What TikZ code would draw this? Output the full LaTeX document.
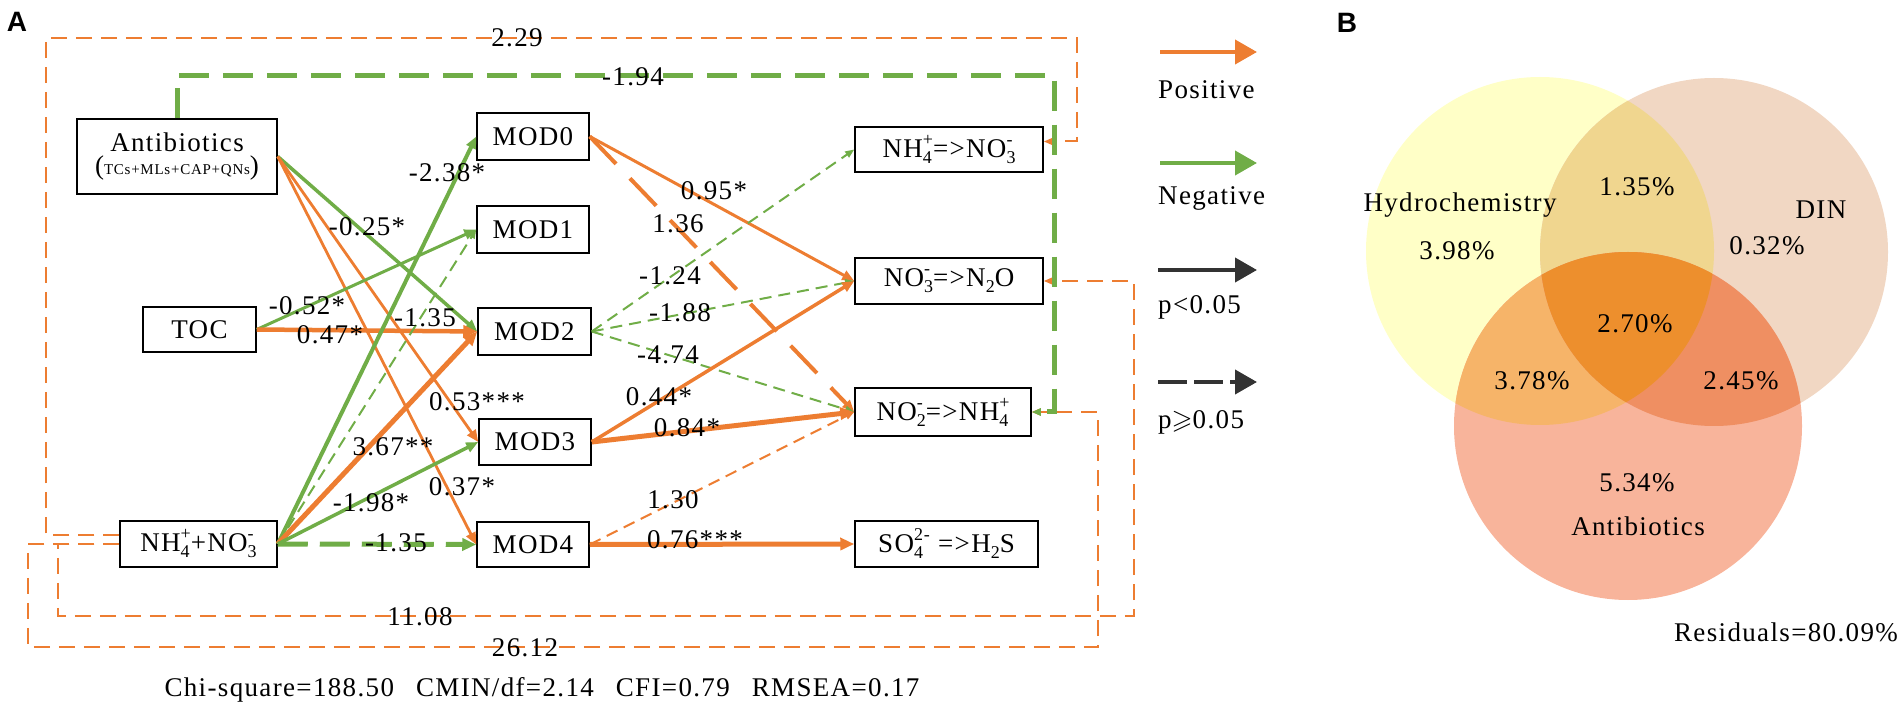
\documentclass[tikz,border=0pt]{standalone}
\usepackage{fontspec}
\usepackage{amssymb}
\setmainfont{Liberation Serif}[LetterSpace=5]
\newfontfamily\panelfont{Liberation Sans}[BoldFont={Liberation Sans Bold}]
\usetikzlibrary{arrows.meta,calc}
\definecolor{corange}{HTML}{ED7D31}
\definecolor{cgreen}{HTML}{70AD47}
\definecolor{cdark}{HTML}{333333}
\definecolor{vH}{HTML}{FFFFC7}
\definecolor{vD}{HTML}{F1D7C3}
\definecolor{vA}{HTML}{F8B49B}
\definecolor{vHD}{HTML}{F0D68F}
\definecolor{vHA}{HTML}{F6B469}
\definecolor{vDA}{HTML}{EF8F62}
\definecolor{vHDA}{HTML}{ED8F2D}
\newcommand{\chsub}[1]{\raisebox{-6pt}{\fontsize{18}{18}\selectfont #1}}
\newcommand{\chion}[2]{%
  \setbox0=\hbox{\fontsize{18}{18}\selectfont #1}%
  \setbox2=\hbox{\fontsize{18}{18}\selectfont #2}%
  \ifdim\wd0>\wd2 \dimen0=\wd0 \else \dimen0=\wd2 \fi
  \hbox to \dimen0{\rlap{\raisebox{-6pt}{\box0}}\raisebox{12pt}{\box2}\hss}}
\begin{document}
\begin{tikzpicture}[x=1pt,y=-1pt,
  every node/.style={font=\fontsize{27}{27}\selectfont, inner sep=0pt},
  box/.style={draw=black, line width=1.5pt, minimum height=46pt, minimum width=112pt},
  orl/.style={draw=corange},
  grl/.style={draw=cgreen},
  tipN/.style={-{Triangle[length=12pt,width=10pt]}},
  tipT/.style={-{Triangle[length=14pt,width=12pt]}},
  tipS/.style={-{Triangle[length=9pt,width=7pt]}},
  fdash/.style={line width=2pt, dash pattern=on 16pt off 9pt},
  tdash/.style={line width=2pt, dash pattern=on 12pt off 7pt},
  lab/.style={inner sep=0pt}]
\useasboundingbox (0,0) rectangle (1904,708);

% panel letters
\node[font=\panelfont\bfseries\fontsize{28}{28}\selectfont] (pA) at (17,22) {A};
\node[font=\panelfont\bfseries\fontsize{28}{28}\selectfont] (pB) at (1347,23) {B};

% boxes
\node[box, minimum width=200pt, minimum height=75pt, align=center] (anti) at (177,156.5)
  {Antibiotics\\[-4pt]{\fontsize{27}{27}\selectfont(}{\fontsize{15}{15}\selectfont TCs+MLs+CAP+QNs}{\fontsize{27}{27}\selectfont)}};
\node[box, minimum width=113pt, minimum height=45pt] (toc) at (199.5,329.5) {TOC};
\node[box, minimum width=157pt] (nh) at (198.5,544) {NH\chion{4}{+}+NO\chion{3}{-}};
\node[box, minimum height=47pt] (mod0) at (533,136.5) {MOD0};
\node[box, minimum height=47pt] (mod1) at (533,229.5) {MOD1};
\node[box, minimum width=113pt, minimum height=47pt] (mod2) at (534.5,331.5) {MOD2};
\node[box] (mod3) at (535,442) {MOD3};
\node[box, minimum height=45pt] (mod4) at (533,544.5) {MOD4};
\node[box, minimum width=188pt, minimum height=45pt] (p1) at (949,149.5) {NH\chion{4}{+}=>NO\chion{3}{-}};
\node[box, minimum width=188pt] (p2) at (949,281) {NO\chion{3}{-}=>N\chsub{2}O};
\node[box, minimum width=176pt, minimum height=48pt] (p3) at (943,412) {NO\chion{2}{-}=>NH\chion{4}{+}};
\node[box, minimum width=183pt] (p4) at (946.5,544) {SO\chion{4}{2-} =>H\chsub{2}S};

% drivers -> MOD
\draw[grl, line width=3.5pt, tipN] (anti.east) -- (mod2.west);
\draw[orl, line width=2.8pt, tipN] (anti.east) -- (mod3.west);
\draw[orl, line width=2.8pt, tipN] (anti.east) -- (mod4.west);
\draw[grl, line width=3pt, tipN] (toc.east) -- (mod1.west);
\draw[orl, line width=4.5pt, tipT] (toc.east) -- (mod2.west);
\draw[grl, line width=4pt, tipN] (nh.east) -- (mod0.west);
\draw[grl, tdash, tipS] (nh.east) -- (mod1.west);
\draw[orl, line width=5pt, tipT] (nh.east) -- (mod2.west);
\draw[grl, line width=3.5pt, tipN] (nh.east) -- (mod3.west);
\draw[grl, line width=5pt, dash pattern=on 30pt off 12pt, tipT] (nh.east) -- (mod4.west);

% MOD -> processes
\draw[orl, line width=3pt, tipN] (mod0.east) -- (p2.west);
\draw[orl, line width=4pt, dash pattern=on 38pt off 20pt, tipN] (mod0.east) -- (p3.west);
\draw[grl, tdash, tipS] (mod2.east) -- (p1.west);
\draw[grl, tdash, tipS] (mod2.east) -- (p2.west);
\draw[grl, tdash, tipS] (mod2.east) -- (p3.west);
\draw[orl, line width=3.5pt, tipN] (mod3.east) -- (p2.west);
\draw[orl, line width=5pt, tipT] (mod3.east) -- (p3.west);
\draw[orl, tdash, tipS] (mod4.east) -- (p3.west);
\draw[orl, line width=5pt, tipT] (mod4.east) -- (p4.west);

% long feedback paths
\draw[orl, fdash, tipS] ([yshift=9pt]nh.west) -| (46,38) -| ([xshift=33pt,yshift=8pt]p1.east) -- ([yshift=8pt]p1.east);
\draw[orl, fdash, tipS] (nh.west) -| (58,616) -| ([xshift=90pt]p2.east) -- (p2.east);
\draw[orl, fdash, tipS] (nh.west) -| (28,647) -| ([xshift=66pt]p3.east) -- (p3.east);
\draw[grl, line width=5pt, dash pattern=on 30pt off 14pt, tipS] (anti.north) |- (1054,76) |- (p3.east);

% coefficient labels
\node[lab] (c1) at (517,38) {2.29};
\node[lab] (c2) at (633,77) {-1.94};
\node[lab] (c3) at (447,173) {-2.38*};
\node[lab] (c4) at (367,227) {-0.25*};
\node[lab] (c5) at (307,306) {-0.52*};
\node[lab] (c6) at (330,335) {0.47*};
\node[lab] (c7) at (425,318) {-1.35};
\node[lab] (c8) at (477,402) {0.53***};
\node[lab] (c9) at (393,447) {3.67**};
\node[lab] (c10) at (462,487) {0.37*};
\node[lab] (c11) at (371,503) {-1.98*};
\node[lab] (c12) at (396,543) {-1.35};
\node[lab] (c13) at (714,191) {0.95*};
\node[lab] (c14) at (678,224) {1.36};
\node[lab] (c15) at (670,276) {-1.24};
\node[lab] (c16) at (680,313) {-1.88};
\node[lab] (c17) at (668,355) {-4.74};
\node[lab] (c18) at (659,397) {0.44*};
\node[lab] (c19) at (687,428) {0.84*};
\node[lab] (c20) at (673,500) {1.30};
\node[lab] (c21) at (695,540) {0.76***};
\node[lab] (c22) at (420,617) {11.08};
\node[lab] (c23) at (525,648) {26.12};
\node[lab] (fit) at (542,690) {Chi-square=188.50\hspace{22pt}CMIN/df=2.14\hspace{22pt}CFI=0.79\hspace{22pt}RMSEA=0.17};

% legend
\coordinate (g1a) at (1160,52);  \coordinate (g1b) at (1257,52);
\coordinate (g2a) at (1160,163); \coordinate (g2b) at (1257,163);
\coordinate (g3a) at (1158,270); \coordinate (g3b) at (1257,270);
\coordinate (g4a) at (1158,382); \coordinate (g4b) at (1257,382);
\draw[corange, line width=4pt, -{Triangle[length=22pt,width=24pt]}] (g1a) -- (g1b);
\draw[cgreen, line width=4pt, -{Triangle[length=22pt,width=24pt]}] (g2a) -- (g2b);
\draw[cdark, line width=4pt, -{Triangle[length=22pt,width=24pt]}] (g3a) -- (g3b);
\draw[cdark, line width=4pt, dash pattern=on 29pt off 7pt, -{Triangle[length=22pt,width=24pt]}] (g4a) -- (g4b);
\node[lab, anchor=west] (t1) at (1158,90) {Positive};
\node[lab, anchor=west] (t2) at (1158,198) {Negative};
\node[lab, anchor=west] (t3) at (1158,307) {p<0.05};
\node[lab, anchor=west] (t4) at (1158,422) {p$\geqslant$0.05};

% Venn diagram
\def\vr{174}
\fill[vH] (1540,251) circle (\vr);
\fill[vD] (1714,252) circle (\vr);
\fill[vA] (1628,426) circle (\vr);
\begin{scope}
  \clip (1540,251) circle (\vr);
  \fill[vHD] (1714,252) circle (\vr);
\end{scope}
\begin{scope}
  \clip (1540,251) circle (\vr);
  \fill[vHA] (1628,426) circle (\vr);
\end{scope}
\begin{scope}
  \clip (1714,252) circle (\vr);
  \fill[vDA] (1628,426) circle (\vr);
\end{scope}
\begin{scope}
  \clip (1540,251) circle (\vr);
  \clip (1714,252) circle (\vr);
  \fill[vHDA] (1628,426) circle (\vr);
\end{scope}
\node[lab] (vh) at (1460,205) {Hydrochemistry};
\node[lab] (vh2) at (1457,251) {3.98\%};
\node[lab] (vhd) at (1637,187) {1.35\%};
\node[lab] (vd) at (1821,210) {DIN};
\node[lab] (vd2) at (1767,246) {0.32\%};
\node[lab] (vhda) at (1635,324) {2.70\%};
\node[lab] (vha) at (1532,381) {3.78\%};
\node[lab] (vda) at (1741,381) {2.45\%};
\node[lab] (va2) at (1637,483) {5.34\%};
\node[lab] (va) at (1638,526) {Antibiotics};
\node[lab] (res) at (1786,632) {Residuals=80.09\%};
\end{tikzpicture}
\end{document}
